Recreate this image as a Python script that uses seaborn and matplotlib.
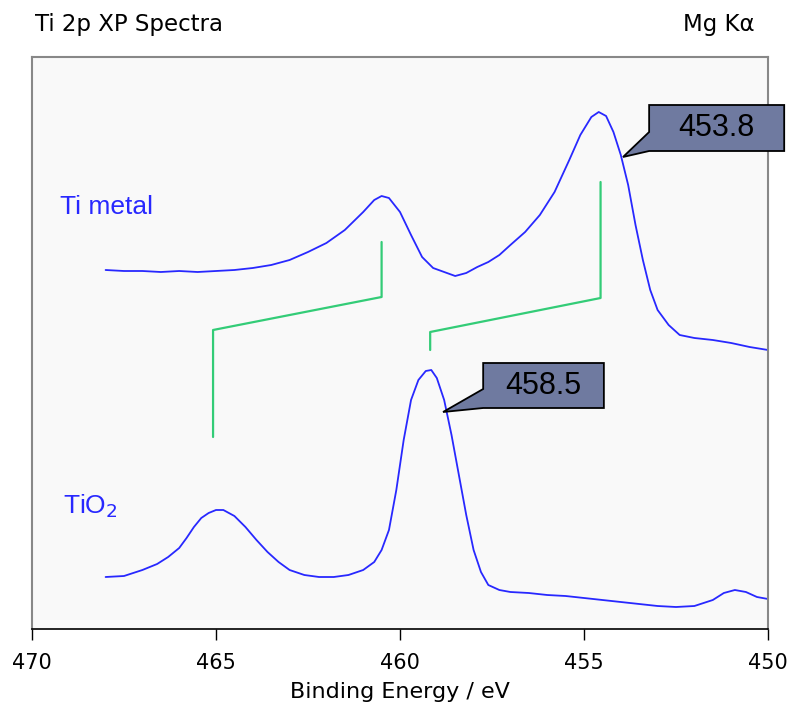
import numpy as np
import pandas as pd
import matplotlib.pyplot as plt
import seaborn as sns
from matplotlib.patches import Polygon

# Ti metal spectrum (binding energy / eV, intensity arb.)
ti_energy = [468.0, 467.5, 467.0, 466.5, 466.0, 465.5, 465.0, 464.5, 464.0, 463.5,
             463.0, 462.5, 462.0, 461.5, 461.0, 460.7, 460.5, 460.3, 460.0, 459.7,
             459.4, 459.1, 458.8, 458.5, 458.2, 457.9, 457.6, 457.3, 457.0, 456.6,
             456.2, 455.8, 455.4, 455.1, 454.8, 454.6, 454.4, 454.2, 454.0, 453.8,
             453.6, 453.4, 453.2, 453.0, 452.7, 452.4, 452.0, 451.5, 451.0, 450.5, 450.0]
ti_counts = [359, 358, 358, 357, 358, 357, 358, 359, 361, 364,
             369, 377, 386, 399, 417, 429, 433, 431, 417, 394,
             372, 361, 357, 353, 356, 362, 367, 374, 384, 397,
             414, 437, 469, 494, 512, 517, 513, 497, 474, 444,
             404, 369, 339, 319, 304, 294, 291, 289, 286, 282, 279]

# TiO2 spectrum
tio2_energy = [468.0, 467.5, 467.0, 466.6, 466.3, 466.0, 465.8, 465.6, 465.4, 465.2,
               465.0, 464.8, 464.5, 464.2, 463.9, 463.6, 463.3, 463.0, 462.6, 462.2,
               461.8, 461.4, 461.0, 460.7, 460.5, 460.3, 460.1, 459.9, 459.7, 459.5,
               459.3, 459.15, 459.0, 458.8, 458.6, 458.4, 458.2, 458.0, 457.8, 457.6,
               457.3, 457.0, 456.5, 456.0, 455.5, 455.0, 454.5, 454.0, 453.5, 453.0,
               452.5, 452.0, 451.5, 451.2, 450.9, 450.6, 450.3, 450.0]
tio2_counts = [52, 53, 59, 65, 72, 81, 91, 102, 111, 116,
               119, 119, 113, 102, 89, 77, 67, 59, 54, 52,
               52, 54, 59, 67, 79, 99, 139, 189, 229, 249,
               258, 259, 251, 229, 194, 154, 114, 79, 57, 44,
               39, 37, 36, 34, 33, 31, 29, 27, 25, 23,
               22, 23, 29, 36, 39, 37, 32, 30]

# spin-orbit shift markers
mark1_energy = [460.5, 460.5, 465.08, 465.08]
mark1_level = [387, 332, 299, 192]
mark2_energy = [454.55, 454.55, 459.18, 459.18]
mark2_level = [447, 331, 297, 279]

# callouts: label, tip (energy, level), box left/right/top/bottom, upper base of pointer
peak_labels = ["453.8", "458.5"]
callouts = [
    dict(tip=(453.94, 472), box=(453.23, 449.56, 524, 478), base=497),
    dict(tip=(458.83, 217), box=(457.74, 454.46, 266, 221), base=240),
]

sns.set_style("white")
plt.rcParams['font.family'] = ['DejaVu Sans']
plt.rcParams['text.color'] = 'black'

blue = "#2828ff"
green = "#33cc77"
box_col = "#6f7aa0"

fig = plt.figure(figsize=(7.9, 7.05), dpi=100)
ax = fig.add_axes([32 / 790, 1 - 629 / 705, 736 / 790, 572 / 705])
ax.set_facecolor("#f9f9f9")

ti = pd.DataFrame({"energy": ti_energy, "counts": ti_counts})
tio2 = pd.DataFrame({"energy": tio2_energy, "counts": tio2_counts})
sns.lineplot(data=ti, x="energy", y="counts", ax=ax, color=blue, lw=1.3, sort=False)
sns.lineplot(data=tio2, x="energy", y="counts", ax=ax, color=blue, lw=1.3, sort=False)

ax.plot(mark1_energy, mark1_level, color=green, lw=1.6)
ax.plot(mark2_energy, mark2_level, color=green, lw=1.6)

ax.text(469.24, 415, "Ti metal", color=blue, fontsize=19, family="Liberation Sans",
        va="baseline")
ax.text(469.16, 115, "TiO$_2$", color=blue, fontsize=19, family="Liberation Sans",
        va="baseline")

for lab, c in zip(peak_labels, callouts):
    l, r, t, b = c["box"]
    verts = [(l, t), (r, t), (r, b), (l, b), c["tip"], (l, c["base"])]
    ax.add_patch(Polygon(verts, closed=True, fc=box_col, ec="black", lw=1.3,
                         clip_on=False, zorder=5))
    ax.text((l + r) / 2, (t + b) / 2, lab, fontsize=22, family="Liberation Sans",
            color="black", ha="center", va="center", zorder=6, clip_on=False)

ax.set_xlim(470, 450)
ax.set_ylim(0, 572)
ax.set_xticks([470, 465, 460, 455, 450])
ax.set_xticklabels(["470", "465", "460", "455", "450"])
ax.set_yticks([])
ax.set_xlabel("Binding Energy / eV", fontsize=16, labelpad=7, color="black")
ax.set_ylabel("")
ax.tick_params(axis="x", direction="out", length=8, width=1, labelsize=15, pad=9,
               bottom=True, color="black", labelcolor="black")
for s in ["left", "top", "right"]:
    ax.spines[s].set_color("#888888")
    ax.spines[s].set_linewidth(1.5)
ax.spines["bottom"].set_color("black")
ax.spines["bottom"].set_linewidth(1.2)

fig.text(35 / 790, 1 - 25 / 705, "Ti 2p XP Spectra", fontsize=16.5, va="center", ha="left")
fig.text(755 / 790, 1 - 25 / 705, "Mg K\u03b1", fontsize=16.5, va="center", ha="right")

fig.savefig("out.png", dpi=100)
